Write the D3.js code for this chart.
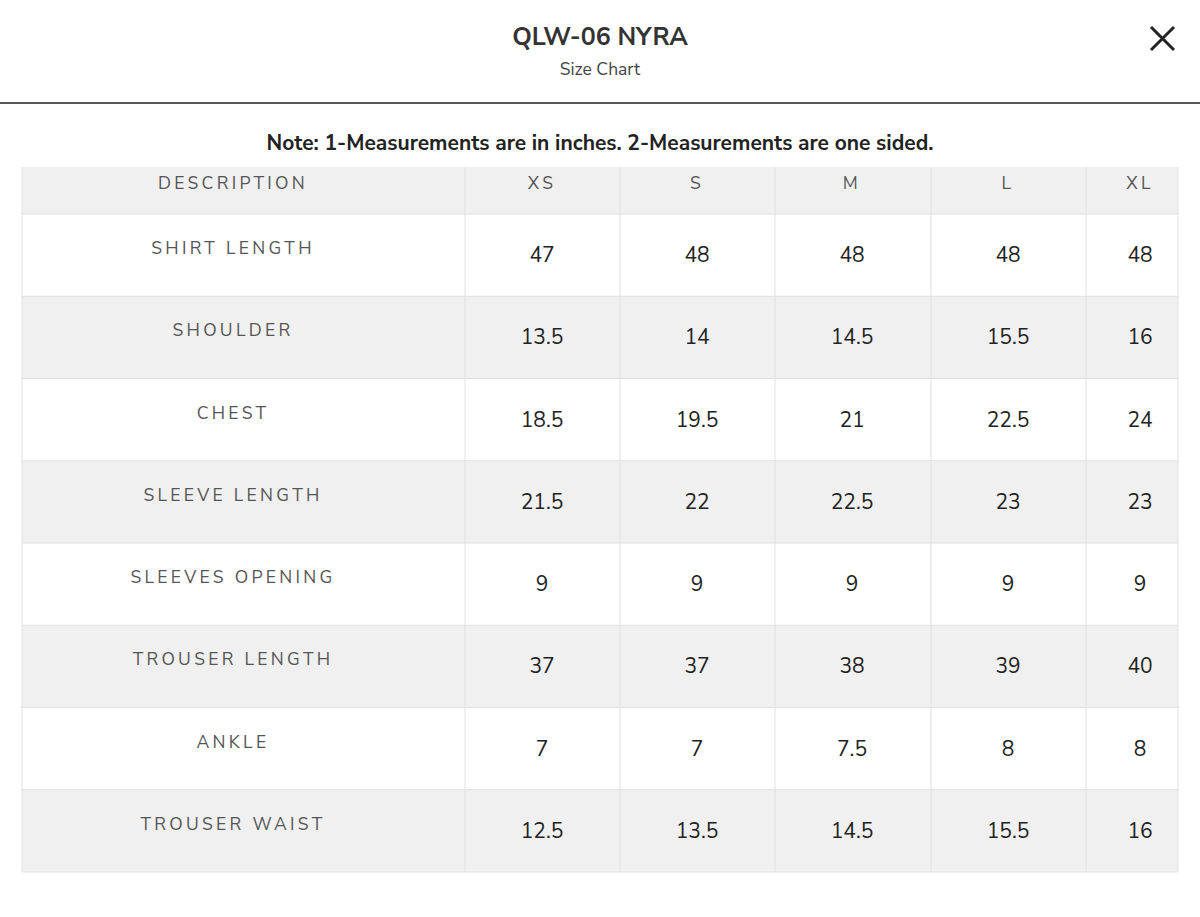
<!DOCTYPE html>
<html><head><meta charset="utf-8">
<script src="https://cdn.jsdelivr.net/npm/d3@7"></script>
<style>body{margin:0;background:#fff;font-family:"Nunito Sans",Lato,"Open Sans",sans-serif}</style>
</head><body><svg id="chart"></svg>
<script>
const sizes = ["XS", "S", "M", "L", "XL"];
const descriptions = ["SHIRT LENGTH", "SHOULDER", "CHEST", "SLEEVE LENGTH", "SLEEVES OPENING", "TROUSER LENGTH", "ANKLE", "TROUSER WAIST"];
const shirtLength = [47, 48, 48, 48, 48];
const shoulder = [13.5, 14, 14.5, 15.5, 16];
const chest = [18.5, 19.5, 21, 22.5, 24];
const sleeveLength = [21.5, 22, 22.5, 23, 23];
const sleevesOpening = [9, 9, 9, 9, 9];
const trouserLength = [37, 37, 38, 39, 40];
const ankle = [7, 7, 7.5, 8, 8];
const trouserWaist = [12.5, 13.5, 14.5, 15.5, 16];
const values = [shirtLength, shoulder, chest, sleeveLength, sleevesOpening, trouserLength, ankle, trouserWaist];

const W = 1200, H = 917;
const svg = d3.select("#chart").attr("width", W).attr("height", H);

// header
svg.append("text").attr("x", 600).attr("y", 45).attr("text-anchor", "middle")
  .attr("font-size", 25).attr("font-weight", 700).attr("fill", "#333").text("QLW-06 NYRA");
svg.append("text").attr("x", 600).attr("y", 75).attr("text-anchor", "middle")
  .attr("font-size", 17.5).attr("fill", "#444").text("Size Chart");
svg.append("path").attr("d", "M1151,27 L1174,50 M1174,27 L1151,50")
  .attr("stroke", "#222").attr("stroke-width", 3);
svg.append("line").attr("x1", 0).attr("x2", W).attr("y1", 103).attr("y2", 103)
  .attr("stroke", "#222").attr("stroke-width", 1.5);
svg.append("text").attr("x", 600).attr("y", 150).attr("text-anchor", "middle")
  .attr("font-size", 21).attr("font-weight", 700).attr("fill", "#222")
  .text("Note: 1-Measurements are in inches. 2-Measurements are one sided.");

// table
const edges = [22, 465, 620, 775, 931, 1086, 1178];
const centres = [233, 542, 697, 852, 1008, 1140];
const col = d3.scaleOrdinal().domain(["DESCRIPTION", ...sizes]).range(centres);
const y = d3.scaleBand().domain(descriptions).range([214, 872]);
const headH = 47;

const g = svg.append("g");
g.append("rect").attr("x", 22).attr("y", 214 - headH).attr("width", 1156).attr("height", headH).attr("fill", "#f0f0f0");
g.selectAll(".row").data(descriptions).join("rect")
  .attr("x", 22).attr("y", d => y(d)).attr("width", 1156).attr("height", y.bandwidth())
  .attr("fill", (d, i) => i % 2 ? "#f0f0f0" : "#fff");

// grid
edges.forEach(x => g.append("line").attr("x1", x).attr("x2", x).attr("y1", 214 - headH).attr("y2", 872)
  .attr("stroke", "#e0e0e0"));
[214, ...descriptions.map(d => y(d) + y.bandwidth())].forEach(yy => g.append("line")
  .attr("x1", 22).attr("x2", 1178).attr("y1", yy).attr("y2", yy).attr("stroke", "#e0e0e0"));

g.selectAll(".hd").data(col.domain()).join("text")
  .attr("x", d => col(d)).attr("y", 189).attr("text-anchor", "middle")
  .attr("font-size", 17.5).attr("letter-spacing", 3.3).attr("fill", "#555").text(d => d);

g.selectAll(".desc").data(descriptions).join("text")
  .attr("x", col("DESCRIPTION")).attr("y", d => y(d) + 40)
  .attr("text-anchor", "middle").attr("font-size", 17.5).attr("letter-spacing", 3.3).attr("fill", "#555").text(d => d);

descriptions.forEach((d, r) => {
  g.selectAll(".v" + r).data(values[r]).join("text")
    .attr("x", (v, i) => col(sizes[i])).attr("y", y(d) + 48)
    .attr("text-anchor", "middle").attr("font-size", 21).attr("fill", "#222").text(v => v);
});
</script></body></html>
